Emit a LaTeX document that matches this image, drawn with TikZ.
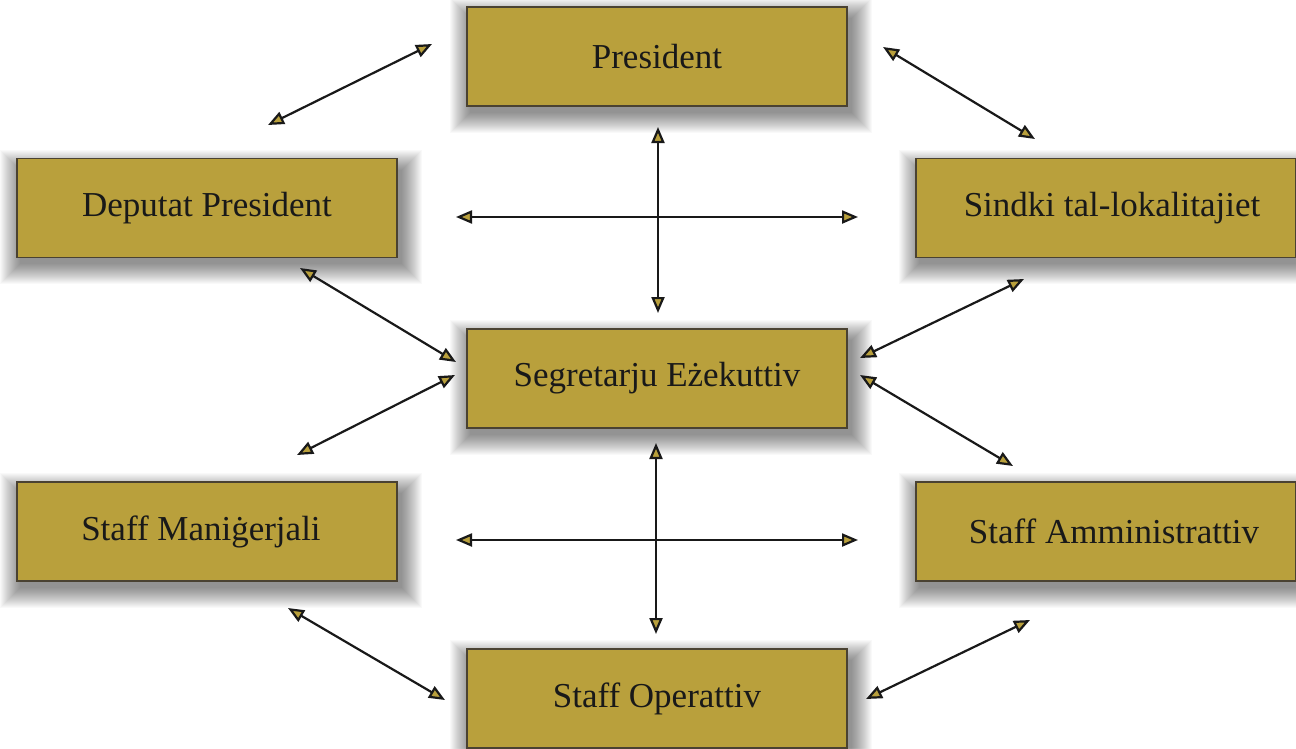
\documentclass[tikz,border=0pt]{standalone}
\usepackage{fontspec}
\setmainfont{Liberation Serif}
\usetikzlibrary{arrows.meta,backgrounds}
\definecolor{gold}{HTML}{B9A03C}
\definecolor{edge}{HTML}{4A4232}
\tikzset{
  box/.style={draw=edge, line width=1.2pt, fill=gold, minimum width=380pt, minimum height=99pt,
    inner sep=0pt, font=\fontsize{35}{38}\selectfont, text=black!90},
  link/.style={line width=2.2pt, black!90, {Triangle[length=16pt,width=13pt,fill=gold]}-{Triangle[length=16pt,width=13pt,fill=gold]}}
}
\begin{document}
\begin{tikzpicture}[x=1pt,y=-1pt]
\useasboundingbox (0,0) rectangle (1296,748);
\node[box] (pres) at (657,56.5) {President};
\node[box] (dep) at (207,208) {Deputat President};
\node[box] (sind) at (1106,208) {\hspace*{12pt}Sindki tal-lokalitajiet};
\node[box] (seg) at (657,378.5) {Segretarju Eżekuttiv};
\node[box] (man) at (207,531.5) {\hspace*{-12pt}Staff Maniġerjali};
\node[box] (amm) at (1106,531.5) {\hspace*{16pt}Staff Amministrattiv};
\node[box] (op) at (657,698.5) {Staff Operattiv};
\begin{scope}[on background layer]
\fill[white] (0,0) rectangle (1296,748);
\foreach \n in {pres,dep,sind,seg,man,amm,op}{
  \foreach \i in {0,...,20}{
    \fill[black, opacity=0.022] ([xshift=4pt-\i pt,yshift=-12pt+\i pt]\n.north west) rectangle ([xshift=4pt+\i pt,yshift=-6pt-\i pt]\n.south east);
  }
}
\end{scope}
\coordinate (a1) at (268,125); \coordinate (b1) at (432,44);
\coordinate (a2) at (883,47); \coordinate (b2) at (1035,139);
\coordinate (a3) at (658,127); \coordinate (b3) at (658,313);
\coordinate (a4) at (456,217); \coordinate (b4) at (858,217);
\coordinate (a5) at (300,268); \coordinate (b5) at (456,362);
\coordinate (a6) at (1024,279); \coordinate (b6) at (860,358);
\coordinate (a7) at (297,455); \coordinate (b7) at (455,375);
\coordinate (a8) at (860,375); \coordinate (b8) at (1013,466);
\coordinate (a9) at (656,443); \coordinate (b9) at (656,634);
\coordinate (a10) at (456,540); \coordinate (b10) at (858,540);
\coordinate (a11) at (288,608); \coordinate (b11) at (445,700);
\coordinate (a12) at (1030,620); \coordinate (b12) at (866,699);
\foreach \k in {1,...,12}{ \draw[link] (a\k) -- (b\k); }
\end{tikzpicture}
\end{document}
